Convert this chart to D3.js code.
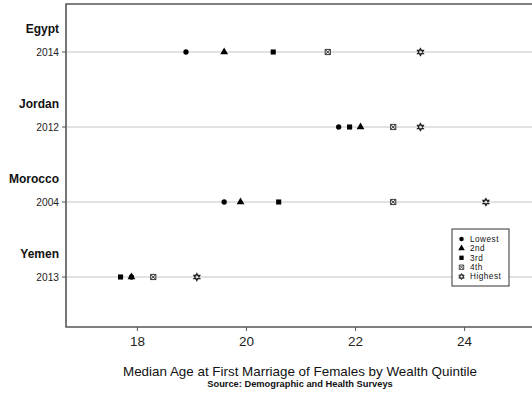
<!DOCTYPE html>
<html>
<head>
<meta charset="utf-8">
<script src="https://cdn.jsdelivr.net/npm/d3@7"></script>
<style>
  html, body { margin: 0; padding: 0; background: #fff; }
  svg { display: block; font-family: "Liberation Sans", Arial, sans-serif; }
</style>
</head>
<body>
<svg id="chart" width="532" height="395"></svg>
<script>
// Survey rows: country, survey year
const countries = ["Egypt", "Jordan", "Morocco", "Yemen"];
const years = ["2014", "2012", "2004", "2013"];

// Median age at first marriage by wealth quintile (one array per quintile, in country order)
const quintiles = ["Lowest", "2nd", "3rd", "4th", "Highest"];
const lowest  = [18.9, 21.7, 19.6, 17.9];
const second  = [19.6, 22.1, 19.9, 17.9];
const third   = [20.5, 21.9, 20.6, 17.7];
const fourth  = [21.5, 22.7, 22.7, 18.3];
const highest = [23.2, 23.2, 24.4, 19.1];
const seriesValues = [lowest, second, third, fourth, highest];

const xTicks = [18, 20, 22, 24];
const xTitle = "Median Age at First Marriage of Females by Wealth Quintile";
const sourceNote = "Source: Demographic and Health Surveys";

const svg = d3.select("#chart");
const plot = { left: 66, right: 535, top: 4, bottom: 327 };

const x = d3.scaleLinear().domain([16.7, 25.3]).range([plot.left, plot.right]);
const y = d3.scalePoint().domain(countries).range([52, 277]);

// Horizontal guide lines for each survey row
svg.append("g").selectAll("line").data(countries).join("line")
  .attr("x1", plot.left).attr("x2", plot.right)
  .attr("y1", d => y(d)).attr("y2", d => y(d))
  .attr("stroke", "#c4c4c4").attr("stroke-width", 1);

// Frame: top, left and bottom edges
const frame = svg.append("g").attr("stroke", "#555").attr("stroke-width", 1.6).attr("fill", "none");
frame.append("path").attr("d", `M${plot.right},${plot.top}H${plot.left}V${plot.bottom}H${plot.right}`);

// X axis
const xAxis = svg.append("g").attr("transform", `translate(0,${plot.bottom})`)
  .call(d3.axisBottom(x).tickValues(xTicks).tickSize(4).tickPadding(5).tickFormat(d3.format("d")));
xAxis.select(".domain").remove();
xAxis.selectAll(".tick line").attr("stroke", "#555").attr("stroke-width", 1);
xAxis.selectAll(".tick text").attr("font-size", 13.5).attr("fill", "#222")
  .attr("font-family", "Liberation Sans, Arial, sans-serif");

// Y labels: country (bold) above survey year with a small tick
const yl = svg.append("g");
countries.forEach((c, i) => {
  const yy = y(c);
  yl.append("text").attr("x", 59).attr("y", yy - 23).attr("dy", "0.35em")
    .attr("text-anchor", "end").attr("font-size", 12).attr("font-weight", "bold")
    .attr("fill", "#111").text(c);
  yl.append("text").attr("x", 59).attr("y", yy).attr("dy", "0.35em")
    .attr("text-anchor", "end").attr("font-size", 10.2).attr("fill", "#222").text(years[i]);
  yl.append("line").attr("x1", 62).attr("x2", plot.left).attr("y1", yy).attr("y2", yy)
    .attr("stroke", "#555").attr("stroke-width", 1);
});

// Marker shapes
function markerPath(k) {
  if (k === 0) return d3.symbol(d3.symbolCircle, 22)();
  if (k === 1) return d3.symbol(d3.symbolTriangle, 26)();
  if (k === 2) return d3.symbol(d3.symbolSquare, 26)();
  if (k === 3) { // boxed x
    const s = 2.6;
    return `M${-s},${-s}H${s}V${s}H${-s}Z M${-s},${-s}L${s},${s} M${s},${-s}L${-s},${s}`;
  }
  // hexagram outline
  const r = 3.6;
  const tri = a => d3.range(3).map(i => {
    const t = a + i * 2 * Math.PI / 3;
    return [r * Math.sin(t), -r * Math.cos(t)];
  });
  const p = pts => "M" + pts.map(q => q.join(",")).join("L") + "Z";
  return p(tri(0)) + p(tri(Math.PI));
}
function styleMarker(sel, k) {
  if (k <= 2) sel.attr("fill", "#000").attr("stroke", "none");
  else sel.attr("fill", "none").attr("stroke", "#222").attr("stroke-width", k === 3 ? 0.9 : 1.1);
}

// Points
const pts = svg.append("g");
seriesValues.forEach((vals, k) => {
  pts.append("g").selectAll("path").data(vals).join("path")
    .attr("d", markerPath(k))
    .attr("transform", (v, i) => `translate(${x(v)},${y(countries[i])})`)
    .call(styleMarker, k);
});

// Legend
const lg = svg.append("g");
lg.append("rect").attr("x", 452).attr("y", 229).attr("width", 57).attr("height", 57)
  .attr("fill", "#fff").attr("stroke", "#333").attr("stroke-width", 1);
quintiles.forEach((q, k) => {
  const yy = 239 + k * 9.4;
  lg.append("path").attr("d", markerPath(k)).attr("transform", `translate(461.5,${yy}) scale(0.85)`)
    .call(styleMarker, k);
  lg.append("text").attr("x", 470).attr("y", yy).attr("dy", "0.35em")
    .attr("font-size", 8.2).attr("letter-spacing", 0.5).attr("fill", "#111").text(q);
});

// Titles
svg.append("text").attr("x", 300).attr("y", 371).attr("dy", "0.35em").attr("text-anchor", "middle")
  .attr("font-size", 13.4).attr("fill", "#111").text(xTitle);
svg.append("text").attr("x", 300).attr("y", 383.5).attr("dy", "0.35em").attr("text-anchor", "middle")
  .attr("font-size", 9.3).attr("font-weight", "bold").attr("fill", "#111").text(sourceNote);
</script>
</body>
</html>
